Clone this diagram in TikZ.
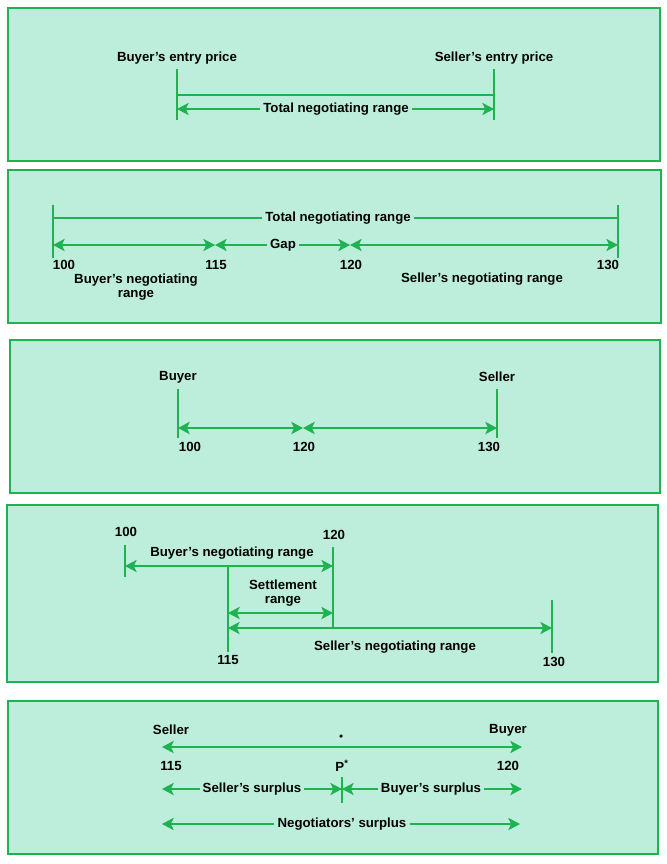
\documentclass[tikz,border=0pt]{standalone}
\usepackage{fontspec}
\setmainfont{Liberation Sans}
\usepackage{tikz}
\usetikzlibrary{arrows.meta}
\definecolor{mint}{RGB}{189,238,220}
\definecolor{leaf}{RGB}{30,178,80}

\begin{document}
\begin{tikzpicture}[x=0.03cm, y=-0.03cm,
>={Stealth[length=10pt,width=10.5pt,inset=2.5pt]},
panel/.style={draw=leaf, line width=1.8pt, fill=mint},
lbl/.style={font=\bfseries\fontsize{11.3}{12.5}\selectfont, inner sep=2.5pt, align=center},
tick/.style={draw=leaf, line width=1.3pt},
bar/.style={draw=leaf, line width=2pt},
rng/.style={draw=leaf, fill=leaf, line width=1.1pt},
rngt/.style={rng, line width=1.8pt}
]
\useasboundingbox (0,0) rectangle (666,864);

% Panels
\draw[panel] (8,8) rectangle (660,161);
\draw[panel] (8,170) rectangle (661,323);
\draw[panel] (10,340) rectangle (660,493);
\draw[panel] (7,505) rectangle (658,682);
\draw[panel] (8,701) rectangle (658,854);

% Entry prices
\node[lbl] (bep) at (177,58) {Buyer's entry price};
\node[lbl] (sep) at (494,58) {Seller's entry price};
\coordinate (bept) at (177,69); \coordinate (bepb) at (177,120);
\coordinate (sept) at (494,69); \coordinate (sepb) at (494,120);
\draw[tick] (bept) -- (bepb);
\draw[tick] (sept) -- (sepb);
\coordinate (bepm) at (177,95); \coordinate (sepm) at (494,95);
\draw[bar] (bepm) -- (sepm);
\node[lbl] (tnr1) at (336,109) {Total negotiating range};
\coordinate (bepa) at (177,109); \coordinate (sepa) at (494,109);
\draw[rng,->] (tnr1) -- (bepa);
\draw[rng,->] (tnr1) -- (sepa);

% Negotiating ranges and gap
\coordinate (r100t) at (53,205); \coordinate (r100b) at (53,258);
\coordinate (r130t) at (618,205); \coordinate (r130b) at (618,258);
\draw[tick] (r100t) -- (r100b);
\draw[tick] (r130t) -- (r130b);
\node[lbl] (tnr2) at (338,218) {Total negotiating range};
\coordinate (r100m) at (53,218); \coordinate (r130m) at (618,218);
\draw[bar] (tnr2) -- (r100m);
\draw[bar] (tnr2) -- (r130m);
\coordinate (r100) at (53,245); \coordinate (r115) at (215,245);
\coordinate (r120) at (350,245); \coordinate (r130) at (618,245);
\node[lbl] (gap) at (283,245) {Gap};
\draw[rng,<->] (r100) -- (r115);
\draw[rng,->] (gap) -- (r115);
\draw[rng,->] (gap) -- (r120);
\draw[rng,<->] (r120) -- (r130);
\node[lbl] (n100a) at (64,265) {100};
\node[lbl] (n115a) at (216,265) {115};
\node[lbl] (n120a) at (351,265) {120};
\node[lbl] (n130a) at (608,265) {130};
\node[lbl] (bnr1) at (136,287) {Buyer's negotiating\\range};
\node[lbl] (snr1) at (482,279) {Seller's negotiating range};

% Buyer and seller
\node[lbl] (buy3) at (178,377) {Buyer};
\node[lbl] (sell3) at (497,377) {Seller};
\coordinate (b3t) at (178,389); \coordinate (b3b) at (178,438);
\coordinate (s3t) at (497,389); \coordinate (s3b) at (497,438);
\draw[tick] (b3t) -- (b3b);
\draw[tick] (s3t) -- (s3b);
\coordinate (b3) at (178,428); \coordinate (m3) at (303,428); \coordinate (s3) at (497,428);
\draw[rngt,<->] (b3) -- (m3);
\draw[rngt,<->] (m3) -- (s3);
\node[lbl] (n100b) at (190,447) {100};
\node[lbl] (n120b) at (304,447) {120};
\node[lbl] (n130b) at (489,447) {130};

% Settlement range
\node[lbl] (n100c) at (126,532) {100};
\node[lbl] (n120c) at (334,535) {120};
\coordinate (c100t) at (125,545); \coordinate (c100b) at (125,577);
\coordinate (c120t) at (333,547); \coordinate (c120b) at (333,627);
\coordinate (c115t) at (228,566); \coordinate (c115b) at (228,652);
\coordinate (c130t) at (552,600); \coordinate (c130b) at (552,653);
\draw[tick] (c100t) -- (c100b);
\draw[tick] (c120t) -- (c120b);
\draw[tick] (c115t) -- (c115b);
\draw[tick] (c130t) -- (c130b);
\node[lbl] (bnr2) at (232,553) {Buyer's negotiating range};
\coordinate (c100) at (125,566); \coordinate (c120) at (333,566);
\draw[rng,<->] (c100) -- (c120);
\node[lbl] (setl) at (283,593) {Settlement\\range};
\coordinate (d115) at (228,613); \coordinate (d120) at (333,613);
\draw[rngt,<->] (d115) -- (d120);
\coordinate (e115) at (228,628); \coordinate (e130) at (552,628);
\draw[rng,<->] (e115) -- (e130);
\node[lbl] (snr2) at (395,647) {Seller's negotiating range};
\node[lbl] (n115c) at (228,660) {115};
\node[lbl] (n130c) at (554,662) {130};

% Surplus
\node[lbl] (sell5) at (171,730) {Seller};
\node[lbl] (buy5) at (508,730) {Buyer};
\node[circle, fill=black, inner sep=0pt, minimum size=3pt] (dot) at (341,736) {};
\coordinate (s5) at (162,747); \coordinate (b5) at (522,747);
\draw[rngt,<->] (s5) -- (b5);
\node[lbl] (n115d) at (171,766) {115};
\node[lbl] (pstar) at (342,766) {P\textsuperscript{*}};
\node[lbl] (n120d) at (508,766) {120};
\coordinate (pt) at (342,777); \coordinate (pb) at (342,803);
\draw[tick] (pt) -- (pb);
\node[lbl] (ssur) at (252,789) {Seller's surplus};
\node[lbl] (bsur) at (431,789) {Buyer's surplus};
\coordinate (ss) at (162,789); \coordinate (sp) at (342,789); \coordinate (bs) at (522,789);
\draw[rngt,->] (ssur) -- (ss);
\draw[rng,->] (ssur) -- (sp);
\draw[rng,->] (bsur) -- (sp);
\draw[rngt,->] (bsur) -- (bs);
\node[lbl] (nsur) at (342,824) {Negotiators' surplus};
\coordinate (ns) at (162,824); \coordinate (nb) at (520,824);
\draw[rngt,->] (nsur) -- (ns);
\draw[rngt,->] (nsur) -- (nb);

\end{tikzpicture}
\end{document}
